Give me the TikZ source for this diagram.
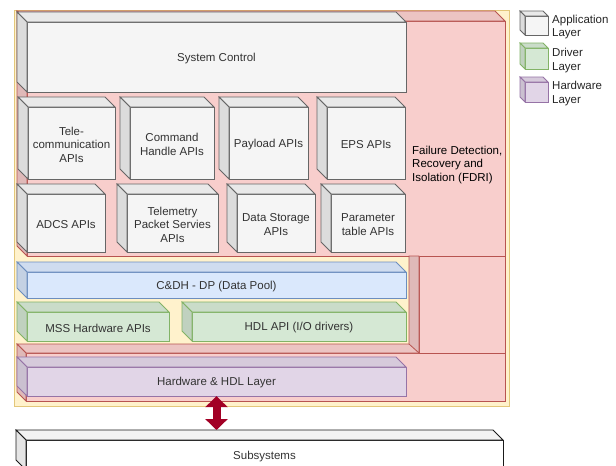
\documentclass[tikz,border=0pt]{standalone}
\usepackage{fontspec}
\setmainfont{Liberation Sans}
\usetikzlibrary{arrows.meta}

\definecolor{bgyellow}{HTML}{FFF2CC}
\definecolor{bgyellowline}{HTML}{E3C77A}
\definecolor{fdripink}{HTML}{F8CECC}
\definecolor{fdriline}{HTML}{B85450}
\definecolor{appfill}{HTML}{F5F5F5}
\definecolor{appline}{HTML}{666666}
\definecolor{poolfill}{HTML}{DAE8FC}
\definecolor{poolline}{HTML}{6C8EBF}
\definecolor{drvfill}{HTML}{D5E8D4}
\definecolor{drvline}{HTML}{82B366}
\definecolor{hwfill}{HTML}{E1D5E7}
\definecolor{hwline}{HTML}{9673A6}
\definecolor{subfill}{HTML}{FFFFFF}
\definecolor{subline}{HTML}{1A1A1A}
\definecolor{linkred}{HTML}{A20025}
\definecolor{labeltext}{HTML}{333333}

\tikzset{
  cubelabel/.style={inner sep=0pt, align=center, text=labeltext,
    font=\fontsize{11.5}{13.5}\selectfont},
  sidelabel/.style={inner sep=0pt, align=left, anchor=west, text=black!85,
    font=\fontsize{11.5}{13.5}\selectfont},
  panel/.style={line width=0.8pt},
  link/.style={draw=linkred, line width=8pt,
    {Triangle[width=22pt,length=11pt]}-{Triangle[width=22pt,length=11pt]}},
}

% A box with a top strip and a left strip (depth going up-left);
% the named node covers the front face and carries the text.
% #1 name, #2 x1, #3 y1, #4 x2, #5 y2, #6 depth, #7 fill, #8 stroke, #9 text
\newcommand\layercube[9]{%
  \filldraw[panel, fill=#7, draw=#8] (#2+#6,#3+#6) rectangle (#4,#5);
  \filldraw[panel, fill=#7!95!black, draw=#8]
    (#2,#3) -- (#4-#6,#3) -- (#4,#3+#6) -- (#2+#6,#3+#6) -- cycle;
  \filldraw[panel, fill=#7!90!black, draw=#8]
    (#2,#3) -- (#2+#6,#3+#6) -- (#2+#6,#5) -- (#2,#5-#6) -- cycle;
  \node[cubelabel, minimum width={#4pt-#2pt-#6pt}, minimum height={#5pt-#3pt-#6pt}]
    (#1) at ({(#2+#6+#4)/2},{(#3+#6+#5)/2}) {};
  \node[cubelabel] (#1-text) at ([yshift=-1.5pt]#1.center) {#9};
}

\begin{document}
\begin{tikzpicture}[x=1pt, y=-1pt]
\useasboundingbox (0,0) rectangle (616,466);
\clip (0,0) rectangle (616,466);
\fill[white] (0,0) rectangle (616,466);

% yellow backdrop of the on-board software
\filldraw[panel, fill=bgyellow, draw=bgyellowline] (14,10) rectangle (509,406);

% FDRI block around the application layer
\layercube{fdri}{17}{11}{505}{256}{10}{fdripink}{fdriline}{}
\node[sidelabel, text=black] (fdrilabel) at (412,165)
  {Failure Detection,\\Recovery and\\Isolation (FDRI)};

% lower FDRI block holding the hardware layer
\layercube{fdrilow}{17}{344}{505}{401}{9}{fdripink}{fdriline}{}
\filldraw[panel, fill=fdripink, draw=fdriline] (419,256) rectangle (505,353);
\filldraw[panel, fill=fdripink!90!black, draw=fdriline]
  (409,256) -- (419,256) -- (419,353) -- (409,344) -- cycle;

% application layer
\layercube{sysctl}{17}{12}{406}{92}{10}{appfill}{appline}{System Control}

\layercube{telecom}{18}{97}{115}{179}{10}{appfill}{appline}{Tele-\\communication\\APIs}
\layercube{cmd}{120}{97}{214}{179}{10}{appfill}{appline}{Command\\Handle APIs}
\layercube{payload}{219}{97}{308}{179}{10}{appfill}{appline}{Payload APIs}
\layercube{eps}{317}{97}{405}{179}{10}{appfill}{appline}{EPS APIs}

\layercube{adcs}{17}{184}{105}{252}{10}{appfill}{appline}{ADCS APIs}
\layercube{tm}{117}{184}{218}{252}{10}{appfill}{appline}{Telemetry\\Packet Servies\\APIs}
\layercube{storage}{227}{184}{315}{252}{10}{appfill}{appline}{Data Storage\\APIs}
\layercube{param}{321}{184}{405}{252}{10}{appfill}{appline}{Parameter\\table APIs}

% data pool and driver layer
\layercube{pool}{17}{262}{406}{298}{10}{poolfill}{poolline}{C\&DH - DP (Data Pool)}
\layercube{mss}{17}{302}{169}{341}{10}{drvfill}{drvline}{MSS Hardware APIs}
\layercube{hdl}{182}{302}{406}{341}{10}{drvfill}{drvline}{HDL API (I/O drivers)}

% hardware layer
\layercube{hw}{17}{357}{406}{396}{10}{hwfill}{hwline}{Hardware \& HDL Layer}

% subsystems below the board
\layercube{sub}{16}{430}{503}{470}{10}{subfill}{subline}{Subsystems}
\coordinate (subtop) at (216.5,430);
\draw[link] (hw.south) -- (subtop);

% legend
\layercube{legapp}{520}{11}{548}{35}{5}{appfill}{appline}{}
\node[sidelabel] (legapptext) at (552,27) {Application\\Layer};
\layercube{legdrv}{520}{43}{548}{69}{5}{drvfill}{drvline}{}
\node[sidelabel] (legdrvtext) at (552,60.5) {Driver\\Layer};
\layercube{leghw}{520}{77}{548}{102}{5}{hwfill}{hwline}{}
\node[sidelabel] (leghwtext) at (552,93.5) {Hardware\\Layer};
\end{tikzpicture}
\end{document}
